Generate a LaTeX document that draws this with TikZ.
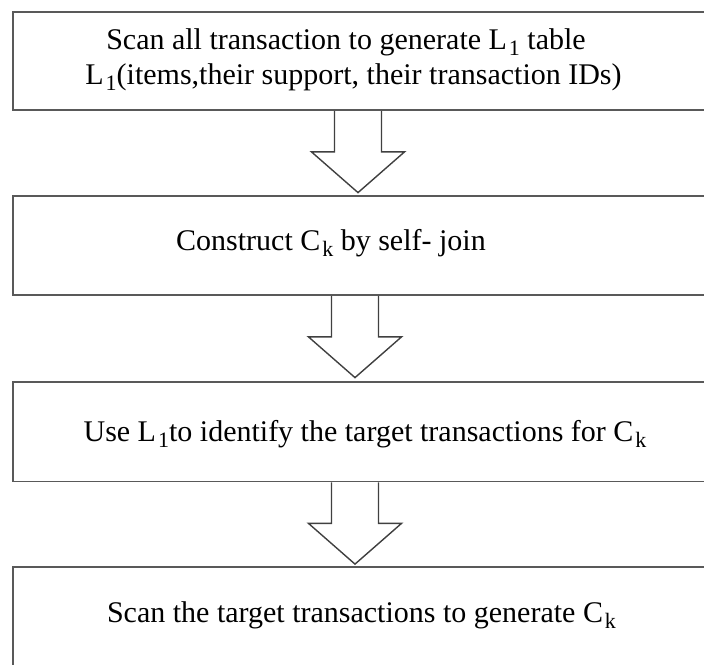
\documentclass[tikz,border=0pt]{standalone}
\usepackage{fontspec}
\setmainfont{Liberation Serif}
\usetikzlibrary{calc}
\newcommand{\sbx}[1]{\kern2pt\raisebox{-6.5pt}{\fontsize{22}{22}\selectfont #1}}
\newcommand{\blockarrow}[1]{%
  \draw[barrow] (#1) ++(-23.5,0) -- ++(0,41) -- ++(-23,0) -- ++(46.5,40.7)
    -- ++(46.5,-40.7) -- ++(-23,0) -- ++(0,-41);}
\tikzset{
  box/.style={draw=black!65, line width=1.8pt, rectangle, inner sep=0pt, minimum width=717pt},
  lbl/.style={font=\fontsize{30}{31}\selectfont, inner sep=0pt, align=center},
  barrow/.style={draw=black!75, line width=1.4pt, line join=miter},
}
\begin{document}
\begin{tikzpicture}[x=1pt,y=-1pt]
\useasboundingbox (0,0) rectangle (704,664);
\clip (0,0) rectangle (704,664);
\fill[white] (0,0) rectangle (704,664);
% boxes
\node[box, minimum height=98pt] (b1) at (371.5,61) {};
\node[box, minimum height=99pt] (b2) at (371.5,245.5) {};
\node[box, minimum height=99.5pt] (b3) at (371.5,431.75) {};
\node[box, minimum height=133pt] (b4) at (371.5,633.5) {};
% texts
\node[lbl, anchor=base] (t1a) at (346,49) {Scan all transaction to generate L\sbx{1} table};
\node[lbl, anchor=base] (t1b) at (353.5,84) {L\sbx{1}(items,their support, their transaction IDs)};
\node[lbl, anchor=base] (t2) at (331,250) {Construct C\sbx{k} by self- join};
\node[lbl, anchor=base] (t3) at (365,441) {Use L\sbx{1}to identify the target transactions for C\sbx{k}};
\node[lbl, anchor=base] (t4) at (361.5,622) {Scan the target transactions to generate C\sbx{k}};
% block arrows
\path ([xshift=-13.5pt]b1.south) coordinate (a1);
\path ([xshift=-16.5pt]b2.south) coordinate (a2);
\path ([xshift=-16.5pt]b3.south) coordinate (a3);
\blockarrow{a1}
\blockarrow{a2}
\blockarrow{a3}
\end{tikzpicture}
\end{document}
